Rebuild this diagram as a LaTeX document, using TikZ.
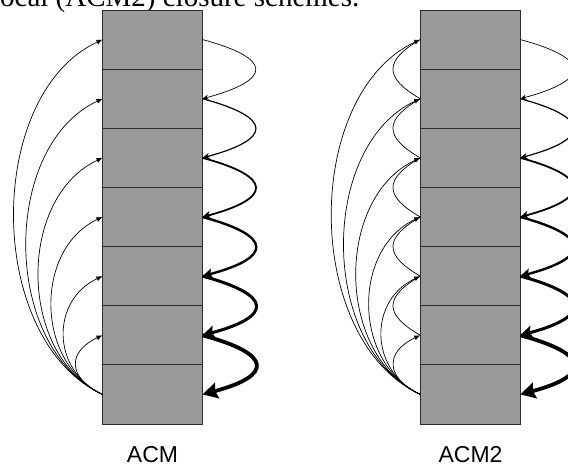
\documentclass[tikz,border=0pt]{standalone}
\usepackage{fontspec}
\setmainfont{Liberation Serif}
\newfontfamily\labelfont{Liberation Sans}
\usetikzlibrary{arrows.meta}
\definecolor{cellgray}{RGB}{154,154,154}
\definecolor{cellline}{RGB}{45,45,45}

\begin{document}
\begin{tikzpicture}[x=1pt,y=1pt,
  cell/.style={draw=cellline, line width=0.8pt, fill=cellgray,
    minimum width=100pt, minimum height=59.14pt, inner sep=0pt, outer sep=0pt},
  longarrow/.style={line width=0.7pt, -{Latex[length=6pt,width=5pt]}},
  shortloop/.style={line width=0.7pt},
  schemelabel/.style={font=\labelfont\fontsize{23}{27}\selectfont, inner sep=0pt, anchor=base}]
\useasboundingbox (0,0) rectangle (568,467);
\clip (0,0) rectangle (568,467);

% caption line above the figure
\node[anchor=base west, inner sep=0pt, font=\fontsize{29}{33}\selectfont] (caption)
  at (-8.1,460) {local (ACM2) closure schemes.};

% the two stacks of seven cells
\foreach \col/\x in {L/152.5, R/470.25} {
  \foreach \i in {1,...,7} {
    \node[cell] (\col\i) at (\x, {457-(\i-0.5)*59.143}) {};
  }
}

% long arrows from the bottom cell to every cell above it
\foreach \col in {L,R} {
  \foreach \k/\d in {6/39, 5/57, 4/75, 3/94, 2/112, 1/130} {
    \draw[longarrow] (\col7.west) .. controls +(155:\d) and +(205:\d) .. (\col\k.west);
  }
}

% short loops between neighbouring cells (local scheme only)
\foreach \i/\j in {1/2, 2/3, 3/4, 4/5, 5/6} {
  \draw[shortloop] (R\i.west) .. controls +(210:42) and +(150:42) .. (R\j.west);
}

% cell-to-cell arrows on the right, growing heavier downwards
\foreach \col in {L,R} {
  \foreach \i/\j/\w/\len/\wid in {1/2/0.7/6/5, 2/3/1.2/7/6, 3/4/1.8/8/8,
                                   4/5/2.4/10/10, 5/6/3.0/12/13, 6/7/3.8/15/16} {
    \draw[line width=\w pt, -{Stealth[length=\len pt, width=\wid pt, inset=2pt]}]
      (\col\i.east) .. controls +(-15:73) and +(15:73) .. (\col\j.east);
  }
}

% scheme names
\node[schemelabel] (acm) at (152.5,4.3) {ACM};
\node[schemelabel] (acmtwo) at (470.5,4.3) {ACM2};
\end{tikzpicture}
\end{document}
